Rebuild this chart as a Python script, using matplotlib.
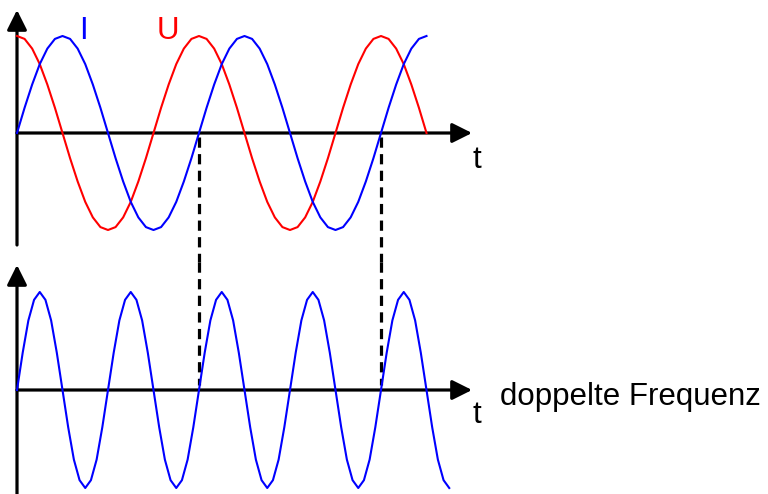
import numpy as np
import matplotlib.pyplot as plt

plt.rcParams['font.family'] = ['Liberation Sans', 'DejaVu Sans']

# top panel: current I and voltage U, 24 samples per period, 2.25 periods
i_vals = [0, .26, .5, .71, .87, .97, 1, .97, .87, .71, .5, .26,
          0, -.26, -.5, -.71, -.87, -.97, -1, -.97, -.87, -.71, -.5, -.26,
          0, .26, .5, .71, .87, .97, 1, .97, .87, .71, .5, .26,
          0, -.26, -.5, -.71, -.87, -.97, -1, -.97, -.87, -.71, -.5, -.26,
          0, .26, .5, .71, .87, .97, 1]
u_vals = [1, .97, .87, .71, .5, .26, 0, -.26, -.5, -.71, -.87, -.97,
          -1, -.97, -.87, -.71, -.5, -.26, 0, .26, .5, .71, .87, .97,
          1, .97, .87, .71, .5, .26, 0, -.26, -.5, -.71, -.87, -.97,
          -1, -.97, -.87, -.71, -.5, -.26, 0, .26, .5, .71, .87, .97,
          1, .97, .87, .71, .5, .26, 0]
t_top = np.linspace(0, 2.25, len(i_vals))

# bottom panel: power, double frequency, 16 samples per period, 4.75 periods
p_vals = [0, .38, .71, .92, 1, .92, .71, .38, 0, -.38, -.71, -.92, -1, -.92, -.71, -.38,
          0, .38, .71, .92, 1, .92, .71, .38, 0, -.38, -.71, -.92, -1, -.92, -.71, -.38,
          0, .38, .71, .92, 1, .92, .71, .38, 0, -.38, -.71, -.92, -1, -.92, -.71, -.38,
          0, .38, .71, .92, 1, .92, .71, .38, 0, -.38, -.71, -.92, -1, -.92, -.71, -.38,
          0, .38, .71, .92, 1, .92, .71, .38, 0, -.38, -.71, -.92, -1]
t_bot = np.linspace(0, 2.375, len(p_vals))

dash_at = [1, 2]   # where the zero crossings line up

W, H = 768, 494
x0, per = 17, 182          # pixel origin and pixels per period
split = 262                # pixel row where the two panels meet

fig = plt.figure(figsize=(W / 100, H / 100), dpi=100)
ax1 = fig.add_axes([0, (H - split) / H, 1, split / H])
ax2 = fig.add_axes([0, 0, 1, (H - split) / H])

xlim = (-x0 / per, (W - x0) / per)
ax1.set_xlim(xlim)
ax1.set_ylim((133 - split) / 97, 133 / 97)
ax2.set_xlim(xlim)
ax2.set_ylim((390 - H) / 98, (390 - split) / 98)
for ax in (ax1, ax2):
    ax.axis('off')

arrow = dict(arrowstyle='-|>,head_length=0.6,head_width=0.3', lw=2.3, color='black',
             mutation_scale=20, shrinkA=0, shrinkB=0)
x_tip = (472 - x0) / per

# axes with arrows
ax1.annotate('', xy=(x_tip, 0), xytext=(0, 0), arrowprops=arrow, annotation_clip=False)
ax1.annotate('', xy=(0, (133 - 10) / 97), xytext=(0, (133 - 245) / 97), arrowprops=arrow,
             annotation_clip=False)
ax2.annotate('', xy=(x_tip, 0), xytext=(0, 0), arrowprops=arrow, annotation_clip=False)
ax2.annotate('', xy=(0, (390 - 265) / 98), xytext=(0, (390 - H - 2) / 98), arrowprops=arrow,
             annotation_clip=False)

# curves
ax1.plot(t_top, u_vals, color='#ff0000', lw=1.5, zorder=3, clip_on=False)
ax1.plot(t_top, i_vals, color='#0000ff', lw=1.5, zorder=3, clip_on=False)
ax2.plot(t_bot, p_vals, color='#0000ff', lw=1.5, zorder=3, clip_on=False)

# dashed guide lines between the panels
dash = (0, (3.2, 2.0))
for xd in dash_at:
    ax1.plot([xd, xd], [-0.04, ax1.get_ylim()[0]], color='black', lw=2.3, ls=dash,
             zorder=1, clip_on=False)
    ax2.plot([xd, xd], [ax2.get_ylim()[1], 0.05], color='black', lw=2.3, ls=dash,
             zorder=1, clip_on=False)

fs = 22.5
ax1.text((83.5 - x0) / per, (133 - 39) / 97, 'I', color='#0000ff', fontsize=fs,
         ha='center', va='baseline')
ax1.text((168 - x0) / per, (133 - 39) / 97, 'U', color='#ff0000', fontsize=fs,
         ha='center', va='baseline')
ax1.text((477 - x0) / per, (133 - 168) / 97, 't', color='black', fontsize=fs,
         ha='center', va='baseline')
ax2.text((477 - x0) / per, (390 - 423) / 98, 't', color='black', fontsize=fs,
         ha='center', va='baseline')
ax2.text((500 - x0) / per, (390 - 405) / 98, 'doppelte Frequenz', color='black',
         fontsize=fs, ha='left', va='baseline')

fig.savefig('out.png', dpi=100)
